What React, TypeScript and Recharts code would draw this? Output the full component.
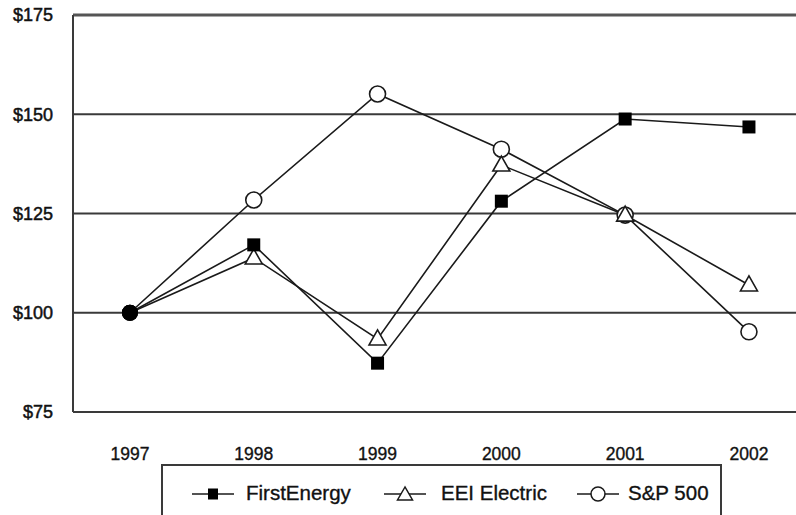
import React from "react";
import { LineChart, Line, XAxis, YAxis, CartesianGrid, ReferenceLine } from "recharts";

const years = [1997, 1998, 1999, 2000, 2001, 2002];
const firstEnergy = [100, 117.1, 87.3, 128.1, 148.8, 146.8];
const eeiElectric = [100, 113.8, 93.4, 137.2, 124.6, 107.0];
const sp500 = [100, 128.4, 155.1, 141.2, 124.6, 95.2];
const yTicks = [75, 100, 125, 150, 175];
const seriesNames = ["FirstEnergy", "EEI Electric", "S&P 500"];

const data = years.map((y, i) => ({
  year: y,
  fe: firstEnergy[i],
  eei: eeiElectric[i],
  sp: sp500[i],
}));

const INK = "#1a1a1a";
const FONT = "'Liberation Sans', Arial, Helvetica, sans-serif";

const startDot = (cx: number, cy: number, key: string) => (
  <circle key={key} cx={cx} cy={cy} r={8} fill="#000" />
);

const squareDot = (p: any) => {
  const { cx, cy, index } = p;
  if (index === 0) return startDot(cx, cy, `fe-${index}`);
  return <rect key={`fe-${index}`} x={cx - 6.5} y={cy - 6.5} width={13} height={13} fill="#000" />;
};

const triangleDot = (p: any) => {
  const { cx, cy, index } = p;
  if (index === 0) return startDot(cx, cy, `eei-${index}`);
  return (
    <polygon
      key={`eei-${index}`}
      points={`${cx},${cy - 9} ${cx - 8.5},${cy + 6} ${cx + 8.5},${cy + 6}`}
      fill="#fff"
      stroke={INK}
      strokeWidth={1.6}
    />
  );
};

const circleDot = (p: any) => {
  const { cx, cy, index } = p;
  if (index === 0) return startDot(cx, cy, `sp-${index}`);
  return <circle key={`sp-${index}`} cx={cx} cy={cy} r={8} fill="#fff" stroke={INK} strokeWidth={1.6} />;
};

const LegendIcon = ({ kind }: { kind: number }) => (
  <svg width={44} height={20} style={{ display: "block" }}>
    <line x1={1} y1={10} x2={43} y2={10} stroke={INK} strokeWidth={1.6} />
    {kind === 0 && <rect x={17} y={4.5} width={10} height={11} fill="#000" />}
    {kind === 1 && (
      <polygon points="22,3 14.5,16 29.5,16" fill="#fff" stroke={INK} strokeWidth={1.5} />
    )}
    {kind === 2 && <circle cx={22} cy={10} r={7} fill="#fff" stroke={INK} strokeWidth={1.5} />}
  </svg>
);

const legendIconLeft = [28, 220, 413];
const legendTextLeft = [83, 278, 465];

export default function App() {
  return (
    <div style={{ position: "absolute", left: 0, top: 0, width: 796, height: 515, background: "#fff", overflow: "hidden" }}>
      <LineChart width={796} height={515} data={data} margin={{ top: 15, right: 0, left: 0, bottom: 0 }}>
        <CartesianGrid vertical={false} stroke="#3a3a3a" strokeWidth={2} />
        <XAxis
          dataKey="year"
          type="number"
          domain={[1996.54, 2002.38]}
          ticks={years}
          height={103}
          tickSize={0}
          tickMargin={36}
          axisLine={{ stroke: "#3a3a3a", strokeWidth: 2 }}
          tickLine={false}
          tick={{ fill: "#111", stroke: "#111", strokeWidth: 0.35, fontSize: 17.5, fontFamily: FONT }}
          allowDataOverflow
        />
        <YAxis
          domain={[75, 175]}
          ticks={yTicks}
          width={73}
          tickSize={0}
          tickMargin={20}
          axisLine={{ stroke: "#3a3a3a", strokeWidth: 2 }}
          tickLine={false}
          tickFormatter={(v: number) => `$${v}`}
          tick={{ fill: "#111", stroke: "#111", strokeWidth: 0.5, fontSize: 18, fontFamily: FONT }}
        />
        <ReferenceLine y={175} stroke="#555" strokeWidth={3} />
        <Line dataKey="sp" stroke={INK} strokeWidth={1.6} dot={circleDot} isAnimationActive={false} />
        <Line dataKey="eei" stroke={INK} strokeWidth={1.6} dot={triangleDot} isAnimationActive={false} />
        <Line dataKey="fe" stroke={INK} strokeWidth={1.6} dot={squareDot} isAnimationActive={false} />
      </LineChart>
      <div
        style={{
          position: "absolute",
          left: 161,
          top: 464,
          width: 557,
          height: 70,
          border: "2px solid #3a3a3a",
          fontFamily: FONT,
          color: "#111",
        }}
      >
        {seriesNames.map((name, i) => (
          <React.Fragment key={name}>
            <div style={{ position: "absolute", left: legendIconLeft[i], top: 18 }}>
              <LegendIcon kind={i} />
            </div>
            <div
              style={{
                position: "absolute",
                left: legendTextLeft[i],
                top: 14,
                fontSize: 20.5,
                lineHeight: "26px",
                whiteSpace: "nowrap",
                WebkitTextStroke: "0.35px #111",
              }}
            >
              {name}
            </div>
          </React.Fragment>
        ))}
      </div>
    </div>
  );
}
